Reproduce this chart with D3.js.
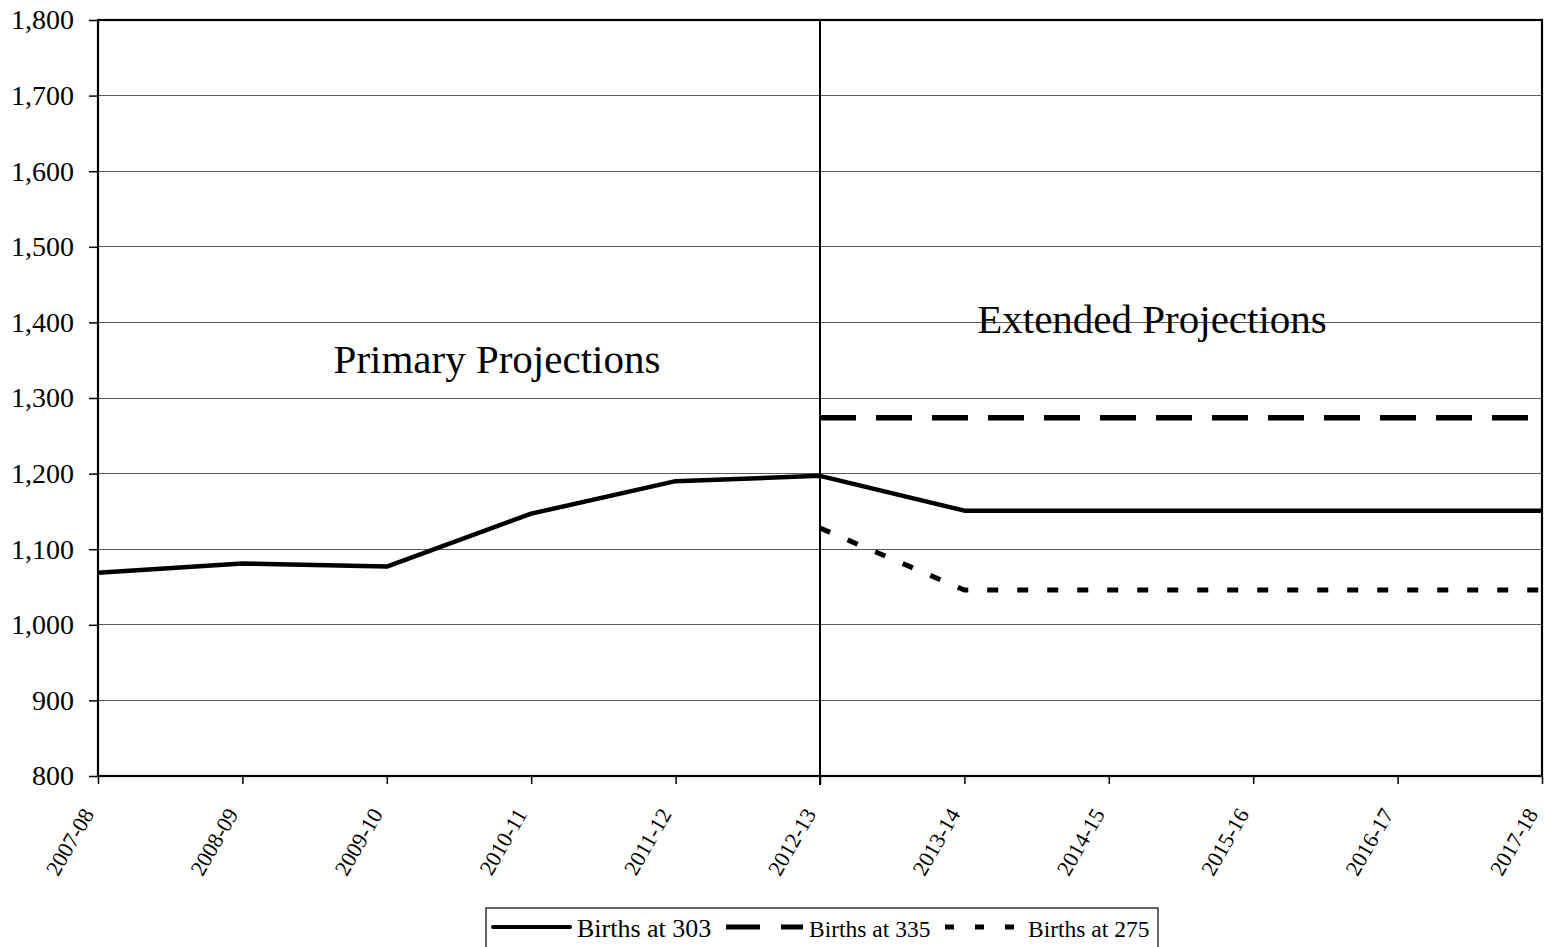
<!DOCTYPE html>
<html><head><meta charset="utf-8">
<script src="https://cdn.jsdelivr.net/npm/d3@7/dist/d3.min.js"></script>
<style>
html,body{margin:0;padding:0;background:#fff;}
svg{display:block;font-family:"Liberation Serif","Times New Roman",serif;}
</style></head>
<body>
<svg id="chart" width="1544" height="947"></svg>
<script>
const categories = ["2007-08","2008-09","2009-10","2010-11","2011-12","2012-13","2013-14","2014-15","2015-16","2016-17","2017-18"];
const births303 = [1069,1081,1077,1147,1190,1197,1151,1151,1151,1151,1151];
const births335 = [null,null,null,null,null,1274,1274,1274,1274,1274,1274];
const births275 = [null,null,null,null,null,1128,1046,1046,1046,1046,1046];
const yTicks = [800,900,1000,1100,1200,1300,1400,1500,1600,1700,1800];
const seriesNames = ["Births at 303","Births at 335","Births at 275"];
const regionLabels = ["Primary Projections","Extended Projections"];
const dividerCategory = "2012-13";

const svg = d3.select("#chart");
const L = 98, R = 1542, T = 20, B = 776;
const x = d3.scalePoint().domain(categories).range([L, R]);
const y = d3.scaleLinear().domain([800, 1800]).range([B, T]);

// gridlines
svg.append("g").selectAll("line").data(yTicks.slice(1)).join("line")
  .attr("x1", L).attr("x2", R).attr("y1", d => y(d)).attr("y2", d => y(d))
  .attr("stroke", "#5a5a5a").attr("stroke-width", 1).attr("shape-rendering","crispEdges");

// y axis
const yAxis = d3.axisLeft(y).tickValues(yTicks).tickSize(9).tickPadding(15)
  .tickFormat(d3.format(","));
const gy = svg.append("g").attr("transform", `translate(${L},0)`).call(yAxis);
gy.select(".domain").remove();
gy.selectAll(".tick line").attr("stroke", "#000").attr("stroke-width", 1.5);
gy.selectAll(".tick text").attr("font-size", 28).attr("fill", "#000")
  .attr("font-family", "'Liberation Serif','Times New Roman',serif");

// x axis
const xAxis = d3.axisBottom(x).tickSize(8).tickFormat("");
const gx = svg.append("g").attr("transform", `translate(0,${B})`).call(xAxis);
gx.select(".domain").remove();
gx.selectAll(".tick line").attr("stroke", "#000").attr("stroke-width", 1.5);
svg.append("g").selectAll("text").data(categories).join("text")
  .attr("transform", d => `translate(${x(d) - 10},${B + 34}) rotate(-60)`)
  .attr("text-anchor", "end").attr("dy", "0.35em")
  .attr("font-size", 22).attr("fill", "#000").text(d => d);

// frame
svg.append("rect").attr("x", L).attr("y", T).attr("width", R - L).attr("height", B - T)
  .attr("fill", "none").attr("stroke", "#000").attr("stroke-width", 2.2);

// divider
svg.append("line").attr("x1", x(dividerCategory)).attr("x2", x(dividerCategory))
  .attr("y1", T).attr("y2", B + 9).attr("stroke", "#000").attr("stroke-width", 2);

// region labels
svg.append("text").attr("x", 497).attr("y", 373).attr("text-anchor", "middle")
  .attr("font-size", 41).text(regionLabels[0]);
svg.append("text").attr("x", 1152).attr("y", 333).attr("text-anchor", "middle")
  .attr("font-size", 41).text(regionLabels[1]);

// lines
const line = d3.line().defined(d => d.v != null).x(d => x(d.c)).y(d => y(d.v));
const mk = arr => categories.map((c, i) => ({c, v: arr[i]}));
svg.append("path").datum(mk(births335)).attr("d", line)
  .attr("fill", "none").attr("stroke", "#000").attr("stroke-width", 5.5)
  .attr("stroke-dasharray", "36 20");
svg.append("path").datum(mk(births275)).attr("d", line)
  .attr("fill", "none").attr("stroke", "#000").attr("stroke-width", 5)
  .attr("stroke-dasharray", "11 19");
svg.append("path").datum(mk(births303)).attr("d", line)
  .attr("fill", "none").attr("stroke", "#000").attr("stroke-width", 4.5)
  .attr("stroke-linejoin", "round");

// legend
const lg = svg.append("g");
lg.append("rect").attr("x", 486).attr("y", 908).attr("width", 672).attr("height", 60)
  .attr("fill", "#fff").attr("stroke", "#000").attr("stroke-width", 1.2);
const ly = 927;
lg.append("line").attr("x1", 493).attr("x2", 570).attr("y1", ly).attr("y2", ly)
  .attr("stroke", "#000").attr("stroke-width", 4).attr("stroke-linecap", "round");
lg.append("text").attr("x", 577).attr("y", 937).attr("font-size", 26).text(seriesNames[0]);
lg.append("line").attr("x1", 726).attr("x2", 803).attr("y1", ly).attr("y2", ly)
  .attr("stroke", "#000").attr("stroke-width", 5).attr("stroke-dasharray", "34 21");
lg.append("text").attr("x", 809).attr("y", 937).attr("font-size", 23.5).text(seriesNames[1]);
lg.append("line").attr("x1", 945).attr("x2", 1016).attr("y1", ly).attr("y2", ly)
  .attr("stroke", "#000").attr("stroke-width", 5).attr("stroke-dasharray", "9 21");
lg.append("text").attr("x", 1028).attr("y", 937).attr("font-size", 23.5).text(seriesNames[2]);
</script>
</body></html>
